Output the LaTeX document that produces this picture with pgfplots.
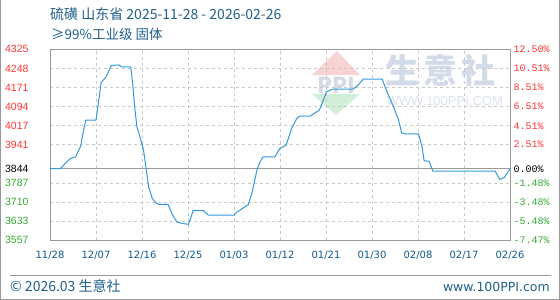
\documentclass[border=0pt]{standalone}
\usepackage{pgfplots}
\pgfplotsset{compat=1.18}
\usepackage{fontspec}
\setmainfont{Liberation Sans}
\newfontfamily\cjk{Noto Sans CJK SC}
\newfontfamily\dv{DejaVu Sans}
\newfontfamily\mono{Liberation Mono}
\definecolor{lineblue}{HTML}{3399DD}
\definecolor{titleblue}{HTML}{1F5F8B}
\definecolor{tickblue}{HTML}{0E5A8A}
\definecolor{ured}{HTML}{FF3333}
\definecolor{dgreen}{HTML}{33AA33}
\definecolor{gridgray}{HTML}{C8C8C8}
\definecolor{framegray}{HTML}{999999}
\definecolor{wmblue}{HTML}{D3DAE8}
\definecolor{wmred}{HTML}{F8D3D3}
\definecolor{wmgreen}{HTML}{D3EED6}
\begin{document}
\begin{tikzpicture}[x=1pt,y=1pt]
\useasboundingbox (0pt,0pt) rectangle (560pt,300pt);
\draw[framegray] (0.5pt,300pt)--(0.5pt,0.5pt)--(559.5pt,0.5pt)--(559.5pt,300pt);
% watermark
\fill[wmred] (337pt,249pt) -- (312pt,225pt) -- (360pt,225pt) -- cycle;
\node[text=wmblue] at (336pt,215pt) {\cjk\bfseries\fontsize{22}{22}\selectfont PPI};
\fill[wmgreen] (312pt,206pt)--(360pt,206pt)--(336pt,185pt)--cycle;
\node[text=wmblue, anchor=west] at (382pt,230pt) {\cjk\bfseries\fontsize{34}{34}\selectfont 生\hspace{4pt}意\hspace{4pt}社};
\node[text=wmblue!80, anchor=west] at (383pt,199pt) {\fontsize{13}{13}\selectfont WWW.100PPI.COM};
% titles
\node[anchor=base west, inner sep=0, text=titleblue] at (50pt,280pt) {\cjk\fontsize{14}{14}\selectfont 硫磺 山东省 2025-11-28 - 2026-02-26};
\node[anchor=base west, inner sep=0, text=titleblue] at (51pt,260pt) {\cjk\fontsize{13.5}{13.5}\selectfont ≥99\%工业级 固体};
% footer
\draw[framegray] (10pt,25pt)--(551pt,25pt);
\node[anchor=base west, inner sep=0, text=titleblue] at (10pt,8pt) {\cjk\fontsize{14}{14}\selectfont © 2026.03 生意社};
\node[anchor=base east, inner sep=0, text=titleblue] at (550pt,8pt) {\dv\fontsize{12.5}{12.5}\selectfont www.100PPI.com};
\begin{axis}[
  at={(50pt,60pt)}, anchor=south west,
  scale only axis, width=460pt, height=190.7pt,
  xmin=0, xmax=90, ymin=3557, ymax=4325,
  xtick={0,9,...,90},
  xticklabels={11/28,12/07,12/16,12/25,01/03,01/12,01/21,01/30,02/08,02/17,02/26},
  xticklabel style={font=\dv\fontsize{10}{10}\selectfont, text=tickblue, yshift=-8pt},
  ytick={4325,4248,4171,4094,4017,3941,3787,3710,3633,3557},
  yticklabels={\textcolor{ured}{4325},\textcolor{ured}{4248},\textcolor{ured}{4171},\textcolor{ured}{4094},\textcolor{ured}{4017},\textcolor{ured}{3941},\textcolor{dgreen}{3787},\textcolor{dgreen}{3710},\textcolor{dgreen}{3633},\textcolor{dgreen}{3557}},
  extra y ticks={3844}, extra y tick labels={3844},
  extra y tick style={grid style={solid, framegray, line width=0.9pt}},
  yticklabel style={font=\fontsize{10.5}{10.5}\selectfont, xshift=-18pt},
  grid=major, grid style={dashed, gridgray, line width=0.6pt},
  major tick length=0pt,
  axis line style={framegray, line width=0.9pt},
  clip=true,
]
\addplot[lineblue, line width=1pt, no markers] coordinates {
(0,3844) (2,3844) (3,3866) (4,3885) (5,3892) (6,3935) (6.5,3993) (7,4040) (9,4040)
(9.5,4114) (10,4190) (11,4215) (12,4260) (13.5,4262) (14,4254) (15.8,4254)
(16.2,4181) (16.6,4087) (17,4013) (17.6,3973) (18.3,3919) (18.8,3845) (19.3,3771)
(20,3725) (20.7,3707) (21.3,3700) (23.1,3700) (24,3657) (24.8,3630) (25.8,3624)
(27.1,3620) (28,3675) (30,3675) (31,3657) (36,3657) (36.5,3668) (38.8,3700)
(39.5,3745) (40.5,3839) (41.1,3872) (41.7,3892) (44,3892) (45,3926) (46.2,3939)
(47.3,4007) (48.3,4047) (48.9,4056) (50.9,4056) (52.7,4080) (53.5,4121) (54.1,4154)
(55.4,4165) (59.3,4165) (60.3,4181) (61.3,4205) (65,4205) (65.8,4161) (67.2,4094)
(68.2,4040) (68.8,3989) (69.5,3984) (72.1,3984) (72.8,3932) (73.2,3876) (74.2,3874)
(74.9,3834) (87.1,3834) (88,3801) (88.9,3809) (90,3844)
};
\end{axis}
\begin{axis}[
  at={(50pt,60pt)}, anchor=south west,
  scale only axis, width=460pt, height=190.7pt,
  xmin=0, xmax=90, ymin=3557, ymax=4325,
  axis x line=none, axis y line*=right,
  axis line style={draw=none},
  major tick length=0pt,
  ytick={4325,4248,4171,4094,4017,3941,3844,3787,3710,3633,3557},
  yticklabels={\textcolor{ured}{12.50\%},\textcolor{ured}{10.51\%},\textcolor{ured}{8.51\%},\textcolor{ured}{6.51\%},\textcolor{ured}{4.51\%},\textcolor{ured}{2.51\%},{0.00\%},\textcolor{dgreen}{-1.48\%},\textcolor{dgreen}{-3.48\%},\textcolor{dgreen}{-5.48\%},\textcolor{dgreen}{-7.47\%}},
  yticklabel style={font=\mono\fontsize{10}{10}\selectfont, xshift=0pt},
]
\addplot[draw=none] coordinates {(0,3844)};
\end{axis}
\end{tikzpicture}
\end{document}
